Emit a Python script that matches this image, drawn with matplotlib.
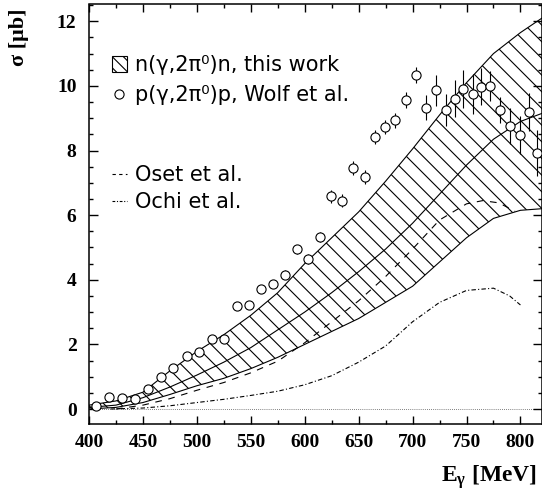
import matplotlib
matplotlib.use("Agg")
import matplotlib.pyplot as plt
from matplotlib.patches import Patch
from matplotlib.lines import Line2D
from matplotlib.ticker import MultipleLocator

DPI = 100
S = 100.0 / DPI

plt.rcParams['hatch.linewidth'] = 0.8 * S
plt.rcParams['mathtext.fontset'] = 'custom'
plt.rcParams['mathtext.rm'] = 'Liberation Serif:bold'
plt.rcParams['mathtext.it'] = 'Liberation Serif:bold'
plt.rcParams['mathtext.bf'] = 'Liberation Serif:bold'

# ---- data: p(gamma,2pi0)p, Wolf et al. ----
wolf_E = [406.5, 418.6, 430.6, 442.7, 454.7, 466.8, 478.2, 490.6, 502.3, 514.1,
          525.5, 537.3, 548.1, 559.8, 570.4, 582.1, 592.7, 603.4, 614.0, 624.5,
          634.7, 645.2, 655.7, 665.0, 674.9, 684.1, 693.8, 703.0, 712.3, 721.6,
          730.9, 738.9, 747.2, 755.6, 763.9, 772.0, 781.2, 790.5, 799.8, 807.9, 815.3]
wolf_sig = [0.10, 0.36, 0.33, 0.31, 0.63, 0.98, 1.26, 1.64, 1.77, 2.18,
            2.17, 3.19, 3.22, 3.71, 3.87, 4.16, 4.94, 4.64, 5.32, 6.58,
            6.44, 7.45, 7.19, 8.43, 8.74, 8.93, 9.57, 10.33, 9.33, 9.86,
            9.26, 9.60, 9.90, 9.74, 9.98, 10.00, 9.26, 8.76, 8.48, 9.19, 7.92]
wolf_err = [0.05, 0.05, 0.05, 0.05, 0.06, 0.07, 0.08, 0.08, 0.09, 0.10,
            0.10, 0.12, 0.12, 0.13, 0.13, 0.14, 0.15, 0.15, 0.16, 0.20,
            0.20, 0.22, 0.22, 0.22, 0.22, 0.22, 0.25, 0.25, 0.40, 0.47,
            0.50, 0.57, 0.58, 0.62, 0.57, 0.46, 0.40, 0.57, 0.60, 0.58, 0.72]

# ---- data: n(gamma,2pi0)n, this work (band) ----
band_E = [400, 425, 450, 475, 500, 525, 550, 575, 600, 625, 650, 675, 700, 725,
          750, 775, 800, 820]
band_upper = [0.12, 0.25, 0.52, 1.18, 1.78, 2.3, 2.9, 3.6, 4.5, 5.3, 6.1, 7.05,
              8.05, 9.1, 10.1, 11.0, 11.65, 12.1]
band_central = [0.05, 0.12, 0.35, 0.68, 1.05, 1.45, 1.9, 2.45, 3.0, 3.6, 4.25,
                4.95, 5.75, 6.65, 7.55, 8.35, 8.9, 9.15]
band_lower = [0.0, 0.05, 0.2, 0.45, 0.72, 0.95, 1.25, 1.6, 2.0, 2.4, 2.8, 3.3,
              3.8, 4.55, 5.3, 5.9, 6.15, 6.2]

# ---- models ----
oset_E = [425, 450, 475, 500, 525, 550, 575, 600, 625, 650, 675, 700, 725, 750,
          765, 780, 795]
oset_sig = [0.0, 0.12, 0.32, 0.58, 0.82, 1.12, 1.48, 2.05, 2.7, 3.35, 4.1, 4.95,
            5.85, 6.35, 6.45, 6.38, 6.12]
ochi_E = [420, 450, 475, 500, 525, 550, 575, 600, 625, 650, 675, 700, 725, 750,
          775, 790, 800]
ochi_sig = [0.0, 0.03, 0.1, 0.2, 0.3, 0.42, 0.55, 0.75, 1.03, 1.45, 1.95, 2.7,
            3.3, 3.67, 3.74, 3.5, 3.22]

labels = ["n(γ,2π⁰)n, this work", "p(γ,2π⁰)p, Wolf et al.",
          "Oset et al.", "Ochi et al."]

fig = plt.figure(figsize=(542 / DPI, 490 / DPI), dpi=DPI)
ax = fig.add_axes([89/542, 66/490, 453/542, 419.5/490])

LW = 0.8 * S
ax.axhline(0, color='#555555', lw=0.6 * S, ls=(0, (1, 1.5)), zorder=1)

ax.fill_between(band_E, band_lower, band_upper, facecolor='none',
                edgecolor='black', hatch='\\\\', linewidth=0, zorder=2)
ax.plot(band_E, band_upper, color='black', lw=LW, zorder=3)
ax.plot(band_E, band_central, color='black', lw=LW, zorder=3)
ax.plot(band_E, band_lower, color='black', lw=LW, zorder=3)

ax.plot(oset_E, oset_sig, color='black', lw=LW, ls=(0, (6, 6)), zorder=3)
ax.plot(ochi_E, ochi_sig, color='black', lw=LW, ls=(0, (4, 2, 1, 2)), zorder=3)

ax.errorbar(wolf_E, wolf_sig, yerr=wolf_err, fmt='o', ms=6.6 * S, mfc='white',
            mec='black', mew=LW, ecolor='black', elinewidth=LW, capsize=0,
            zorder=4)

ax.set_xlim(400, 820)
ax.set_ylim(-0.464, 12.52)

ax.xaxis.set_major_locator(MultipleLocator(50))
ax.xaxis.set_minor_locator(MultipleLocator(25))
ax.yaxis.set_major_locator(MultipleLocator(2))
ax.yaxis.set_minor_locator(MultipleLocator(0.5))
ax.tick_params(axis='x', which='major', direction='in', length=6 * S, width=S,
               top=True, bottom=True, pad=7 * S)
ax.tick_params(axis='x', which='minor', direction='in', length=3 * S, width=S,
               top=True, bottom=True)
ax.tick_params(axis='y', which='major', direction='in', length=6.5 * S, width=S,
               left=True, right=True, pad=9 * S)
ax.tick_params(axis='y', which='minor', direction='in', length=3.2 * S, width=S,
               left=True, right=True)
for s in ax.spines.values():
    s.set_linewidth(1.1 * S)
for lab in ax.get_xticklabels() + ax.get_yticklabels():
    lab.set_fontfamily('Liberation Serif')
    lab.set_fontweight('bold')
    lab.set_fontsize(14 * S)

leg_font = {'family': 'DejaVu Sans', 'size': 15 * S}
h1 = [Patch(facecolor='white', edgecolor='black', hatch='\\\\\\', linewidth=LW),
      Line2D([], [], ls='none', marker='o', ms=6.6 * S, mfc='white', mec='black',
             mew=LW)]
leg1 = ax.legend(h1, labels[:2], loc='upper left', bbox_to_anchor=(0.05, 0.88),
                 frameon=False, prop=leg_font, handlelength=0.72, handleheight=0.8,
                 handletextpad=0.4, labelspacing=0.5, borderaxespad=0,
                 borderpad=0)
ax.add_artist(leg1)
h2 = [Line2D([], [], color='black', lw=LW, ls=(0, (3, 3))),
      Line2D([], [], color='black', lw=LW, ls=(0, (2.5, 1.5, 1, 1.5)))]
leg2 = ax.legend(h2, labels[2:], loc='upper left', bbox_to_anchor=(0.05, 0.617),
                 frameon=False, prop=leg_font, handlelength=0.72,
                 handletextpad=0.4, labelspacing=0.35, borderaxespad=0,
                 borderpad=0)

fig.text(19/542, 1 - 9/490, "σ [μb]", rotation=90, ha='center', va='top',
         family='Liberation Serif', weight='bold', fontsize=16 * S)
fig.text(537/542, 1 - 482/490, r"E$_{\gamma}$ [MeV]", ha='right', va='baseline',
         family='Liberation Serif', weight='bold', fontsize=17 * S)

fig.savefig("out.png", dpi=DPI)
